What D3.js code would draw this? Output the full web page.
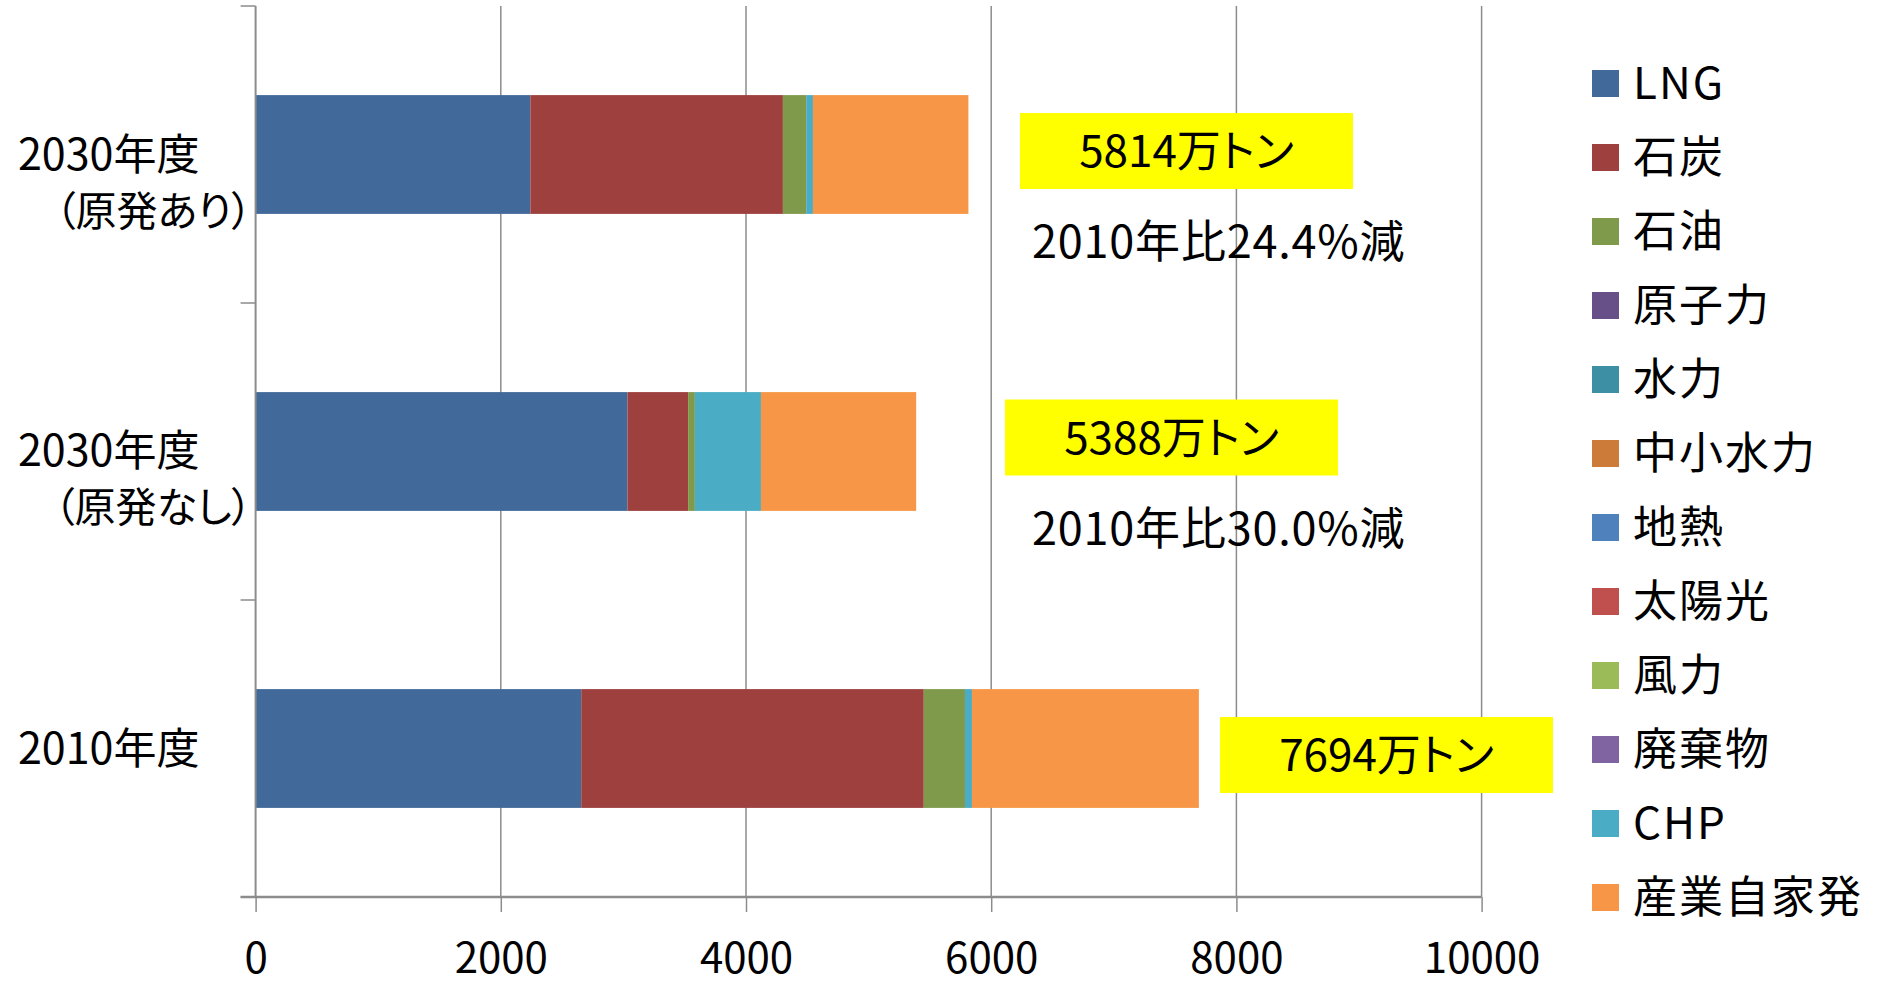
<!DOCTYPE html>
<html lang="ja">
<head>
<meta charset="utf-8">
<script src="https://cdn.jsdelivr.net/npm/d3@7"></script>
<style>
  html, body { margin: 0; padding: 0; background: #ffffff; }
  svg { display: block; }
  text { font-family: "Noto Sans CJK JP", "Noto Sans", sans-serif; fill: #000; }
</style>
</head>
<body>
<svg id="chart" width="1882" height="987"></svg>
<script>
// Categories, top to bottom
const categories = ["2030年度（原発あり）", "2030年度（原発なし）", "2010年度"];
const categoryLines = [["2030年度", "（原発あり）"], ["2030年度", "（原発なし）"], ["2010年度"]];

// Series (CO2 emissions, 万トン) in stacking order
const seriesNames = ["LNG", "石炭", "石油", "原子力", "水力", "中小水力", "地熱", "太陽光", "風力", "廃棄物", "CHP", "産業自家発"];
const lng      = [2241, 3033, 2656];
const coal     = [2060,  495, 2794];
const oil      = [ 190,   55,  336];
const nuclear  = [   0,    0,    0];
const hydro    = [   0,    0,    0];
const smallHyd = [   0,    0,    0];
const geo      = [   0,    0,    0];
const solar    = [   0,    0,    0];
const wind     = [   0,    0,    0];
const waste    = [   0,    0,    0];
const chp      = [  55,  539,   57];
const selfGen  = [1268, 1266, 1851];

const xTicks = [0, 2000, 4000, 6000, 8000, 10000];
const baseCategory = "2010年度";

const colors = ["#416A9A", "#9D403E", "#7F9A4A", "#674F87", "#3D8FA3", "#CC7B38",
                "#4F81BD", "#C0504D", "#9BBB59", "#8064A2", "#4BACC6", "#F79646"];

// layout
const plot = { left: 255.6, right: 1481.6, top: 6, bottom: 897 };
const labelBox = { w: 333, h: 76 };
const labelCenters = [[1186.5, 151], [1171.5, 437.5], [1386.5, 755]];
const noteBaselineOffset = 107;   // from label box centre to note baseline
const noteX = 1032;
const firstLineOffset = [15, 14, 15];
const secondLineOffset = [56, 56, 0];

const seriesValues = [lng, coal, oil, nuclear, hydro, smallHyd, geo, solar, wind, waste, chp, selfGen];
const rows = categories.map((c, i) => {
  const r = { category: c };
  seriesNames.forEach((s, j) => { r[s] = seriesValues[j][i]; });
  return r;
});
const stacked = d3.stack().keys(seriesNames)(rows);
const totals = rows.map(r => d3.sum(seriesNames, s => r[s]));
const baseTotal = totals[categories.indexOf(baseCategory)];

const svg = d3.select("#chart");
const x = d3.scaleLinear().domain([0, 10000]).range([plot.left, plot.right]);
const y = d3.scaleBand().domain(categories).range([plot.top, plot.bottom])
  .paddingInner(0.6).paddingOuter(0.3);

// vertical gridlines
svg.append("g").selectAll("line").data(xTicks.slice(1)).join("line")
  .attr("x1", d => x(d)).attr("x2", d => x(d))
  .attr("y1", plot.top).attr("y2", plot.bottom)
  .attr("stroke", "#8c8c8c").attr("stroke-width", 1.5);

// stacked bars
svg.append("g").selectAll("g").data(stacked).join("g")
  .attr("fill", (d, i) => colors[i])
  .selectAll("rect").data(d => d.map((v, i) => ({ v, cat: categories[i] })))
  .join("rect")
  .attr("x", d => x(d.v[0]))
  .attr("width", d => Math.max(0, x(d.v[1]) - x(d.v[0])))
  .attr("y", d => y(d.cat))
  .attr("height", y.bandwidth());

// bottom axis
const xAxis = svg.append("g").attr("transform", `translate(0,${plot.bottom})`)
  .call(d3.axisBottom(x).tickValues(xTicks).tickFormat(d3.format("d"))
    .tickSize(15).tickSizeOuter(0).tickPadding(31));
xAxis.select(".domain").attr("stroke", "#8c8c8c").attr("stroke-width", 2.5)
  .attr("d", `M${plot.left - 15},0H${plot.right}`);
xAxis.selectAll(".tick line").attr("stroke", "#8c8c8c").attr("stroke-width", 1.5);
xAxis.selectAll(".tick text").attr("font-size", 42).attr("fill", "#000")
  .style("font-family", '"Noto Sans CJK JP", sans-serif');

// left axis line with tick marks on category boundaries
const yEdges = d3.range(categories.length + 1).map(i => plot.top + i * y.step());
svg.append("line").attr("x1", plot.left).attr("x2", plot.left)
  .attr("y1", plot.top).attr("y2", plot.bottom)
  .attr("stroke", "#8c8c8c").attr("stroke-width", 2);
svg.append("g").selectAll("line").data(yEdges).join("line")
  .attr("x1", plot.left - 15).attr("x2", plot.left)
  .attr("y1", d => d).attr("y2", d => d)
  .attr("stroke", "#8c8c8c").attr("stroke-width", 1.5);

// category labels
const catG = svg.append("g").selectAll("g").data(categories).join("g");
catG.each(function (c, i) {
  const g = d3.select(this);
  const cy = y(c) + y.bandwidth() / 2;
  const lines = categoryLines[i];
  g.append("text").attr("x", 18).attr("y", cy + firstLineOffset[i])
    .attr("font-size", 43).text(lines[0]);
  if (lines[1]) {
    g.append("text").attr("x", 252).attr("y", cy + firstLineOffset[i] + secondLineOffset[i])
      .attr("text-anchor", "end").attr("font-size", 41)
      .style("font-feature-settings", '"palt"').text(lines[1]);
  }
});

// total labels in yellow boxes
const lab = svg.append("g").selectAll("g").data(totals).join("g")
  .attr("transform", (d, i) => `translate(${labelCenters[i][0]},${labelCenters[i][1]})`);
lab.append("rect").attr("x", -labelBox.w / 2).attr("y", -labelBox.h / 2)
  .attr("width", labelBox.w).attr("height", labelBox.h).attr("fill", "#FFFF00");
lab.append("text").attr("text-anchor", "middle").attr("y", 16)
  .attr("font-size", 44).style("font-feature-settings", '"palt"')
  .text(d => `${d}万トン`);

// reduction relative to base year
svg.append("g").selectAll("text")
  .data(totals.map((t, i) => ({ t, i })).filter(d => categories[d.i] !== baseCategory))
  .join("text")
  .attr("x", noteX).attr("y", d => labelCenters[d.i][1] + noteBaselineOffset)
  .attr("font-size", 45).attr("letter-spacing", 0.8)
  .text(d => `2010年比${((1 - d.t / baseTotal) * 100).toFixed(1)}%減`);

// legend
const legend = svg.append("g").selectAll("g").data(seriesNames).join("g")
  .attr("transform", (d, i) => `translate(1592,${83.5 + i * 74})`);
legend.append("rect").attr("x", 0).attr("y", -13.5).attr("width", 27).attr("height", 27)
  .attr("fill", (d, i) => colors[i]);
legend.append("text").attr("x", 41).attr("y", 15).attr("font-size", 44)
  .attr("letter-spacing", 2).text(d => d);
</script>
</body>
</html>
